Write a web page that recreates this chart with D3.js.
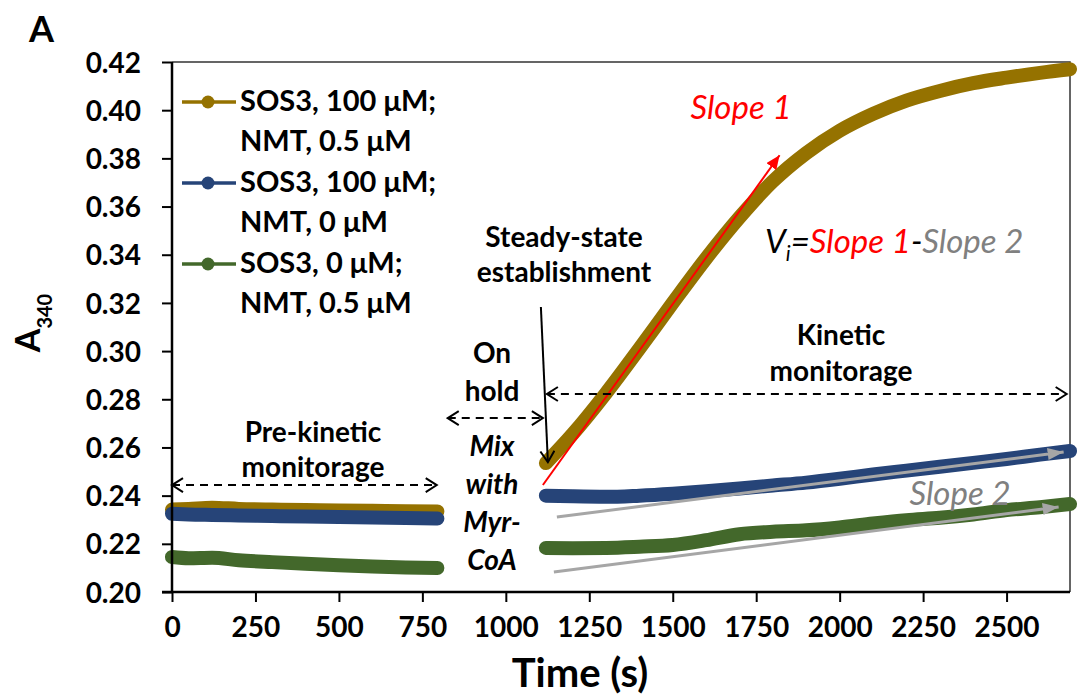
<!DOCTYPE html>
<html><head><meta charset="utf-8">
<script src="https://cdn.jsdelivr.net/npm/d3@7"></script>
<style>
body{margin:0;background:#fff;}
svg{display:block;font-family:Lato,"Open Sans",sans-serif;}
</style></head>
<body><svg id="c" width="1081" height="698"></svg>
<script>
// ---- data ----
const preTime = [0, 50, 120, 200, 300, 400, 500, 600, 700, 795];
const goldPre  = [0.2342, 0.2345, 0.2350, 0.2345, 0.2342, 0.2340, 0.2338, 0.2337, 0.2335, 0.2334];
const bluePre  = [0.2325, 0.2322, 0.2320, 0.2318, 0.2315, 0.2313, 0.2311, 0.2309, 0.2307, 0.2305];
const greenPre = [0.2145, 0.2140, 0.2142, 0.2132, 0.2124, 0.2117, 0.2111, 0.2106, 0.2102, 0.2100];

const kinTime = [1120, 1200, 1300, 1400, 1500, 1600, 1700, 1800, 1900, 2000, 2100, 2200, 2300, 2400, 2500, 2600, 2690];
const goldKin  = [0.2535, 0.2655, 0.2825, 0.3010, 0.3200, 0.3385, 0.3555, 0.3705, 0.3822, 0.3915, 0.3985, 0.4040, 0.4080, 0.4112, 0.4135, 0.4155, 0.4170];
const blueKin  = [0.2400, 0.2397, 0.2395, 0.2400, 0.2408, 0.2418, 0.2430, 0.2442, 0.2454, 0.2470, 0.2488, 0.2504, 0.2520, 0.2536, 0.2552, 0.2570, 0.2585];
const greenKin = [0.2183, 0.2182, 0.2183, 0.2188, 0.2195, 0.2215, 0.2240, 0.2250, 0.2256, 0.2268, 0.2284, 0.2298, 0.2308, 0.2322, 0.2340, 0.2352, 0.2365];

const seriesNames = [["SOS3, 100 μM;", "NMT, 0.5 μM"], ["SOS3, 100 μM;", "NMT, 0 μM"], ["SOS3, 0 μM;", "NMT, 0.5 μM"]];
const seriesColors = ["#957200", "#264478", "#43682B"];

const xTicks = [0, 250, 500, 750, 1000, 1250, 1500, 1750, 2000, 2250, 2500];
const yTicks = [0.20, 0.22, 0.24, 0.26, 0.28, 0.30, 0.32, 0.34, 0.36, 0.38, 0.40, 0.42];

// slope guide lines (data units)
const slope1 = [[1111, 0.2444], [1820, 0.3813]];
const slope2Blue = [[1153, 0.2311], [2671, 0.2581]];
const slope2Green = [[1144, 0.2083], [2656, 0.2353]];

// ---- layout ----
const svg = d3.select("#c");
const L = 172, R = 1070, T = 62, B = 592;
const x = d3.scaleLinear().domain([0, 2690]).range([L, R]);
const y = d3.scaleLinear().domain([0.20, 0.42]).range([B, T]);

// defs: arrowheads
const defs = svg.append("defs");
function openHead(id){
  defs.append("marker").attr("id", id).attr("viewBox", "-12 -8 14 16")
    .attr("refX", 0).attr("refY", 0).attr("markerWidth", 14).attr("markerHeight", 16)
    .attr("markerUnits", "userSpaceOnUse").attr("orient", "auto-start-reverse")
    .append("path").attr("d", "M-11,-7 L0,0 L-11,7").attr("fill", "none")
    .attr("stroke", "#000").attr("stroke-width", 2);
}
openHead("open");
function filledHead(id, color, w, h){
  defs.append("marker").attr("id", id).attr("viewBox", `${-w} ${-h/2} ${w} ${h}`)
    .attr("refX", 0).attr("refY", 0).attr("markerWidth", w).attr("markerHeight", h)
    .attr("markerUnits", "userSpaceOnUse").attr("orient", "auto")
    .append("path").attr("d", `M${-w},${-h/2} L0,0 L${-w},${h/2} Z`).attr("fill", color);
}
filledHead("redHead", "#FF0000", 14, 12);
filledHead("grayHead", "#A6A6A6", 16, 12);

// frame (top & right)
svg.append("path").attr("d", `M${L},${T} H${R} V${B}`).attr("fill", "none")
  .attr("stroke", "#333").attr("stroke-width", 1.5);

// series
const line = d3.line().x(d => x(d[0])).y(d => y(d[1])).curve(d3.curveMonotoneX);
const pre = [goldPre, bluePre, greenPre];
const kin = [goldKin, blueKin, greenKin];
[0, 1, 2].forEach(i => {
  const g = svg.append("g");
  g.append("path").datum(preTime.map((t, j) => [t, pre[i][j]])).attr("d", line)
    .attr("fill", "none").attr("stroke", seriesColors[i]).attr("stroke-width", 14)
    .attr("stroke-linecap", "round").attr("stroke-linejoin", "round");
  g.append("path").datum(kinTime.map((t, j) => [t, kin[i][j]])).attr("d", line)
    .attr("fill", "none").attr("stroke", seriesColors[i]).attr("stroke-width", 14)
    .attr("stroke-linecap", "round").attr("stroke-linejoin", "round");
  if (i === 0) {
    svg.append("line").attr("x1", x(slope1[0][0])).attr("y1", y(slope1[0][1]))
      .attr("x2", x(slope1[1][0])).attr("y2", y(slope1[1][1]))
      .attr("stroke", "#FF0000").attr("stroke-width", 2).attr("marker-end", "url(#redHead)");
  }
});
[slope2Blue, slope2Green].forEach(s => {
  svg.append("line").attr("x1", x(s[0][0])).attr("y1", y(s[0][1]))
    .attr("x2", x(s[1][0])).attr("y2", y(s[1][1]))
    .attr("stroke", "#A6A6A6").attr("stroke-width", 3).attr("marker-end", "url(#grayHead)");
});

// axes
const yAxis = svg.append("g").attr("transform", `translate(${L},0)`)
  .call(d3.axisLeft(y).tickValues(yTicks).tickFormat(d3.format(".2f")).tickSizeInner(10).tickSizeOuter(0));
const xAxis = svg.append("g").attr("transform", `translate(0,${B})`)
  .call(d3.axisBottom(x).tickValues(xTicks).tickFormat(d3.format("d")).tickSizeInner(10).tickSizeOuter(0));
[yAxis, xAxis].forEach(a => {
  a.select(".domain").attr("stroke", "#000").attr("stroke-width", 2.5);
  a.selectAll(".tick line").attr("stroke", "#000").attr("stroke-width", 2);
  a.selectAll(".tick text").attr("fill", "#000").style("font-family", "Lato").style("font-weight", "bold").style("font-size", "28px");
});
yAxis.select(".domain").attr("d", `M0,${T}V${B}`);
xAxis.select(".domain").attr("d", `M${L-10},0H${R}`);
yAxis.selectAll(".tick text").attr("x", -31).attr("dy", "0.36em");
xAxis.selectAll(".tick text").attr("y", 24).attr("dy", "0.74em");

// titles
svg.append("text").attr("x", 29).attr("y", 42).attr("font-weight", "bold").attr("font-size", 36).text("A");
svg.append("text").attr("x", 580).attr("y", 687).attr("text-anchor", "middle")
  .attr("font-weight", "bold").attr("font-size", 40).text("Time (s)");
const yl = svg.append("text").attr("transform", "translate(40,323) rotate(-90)")
  .attr("text-anchor", "middle").attr("font-weight", "bold");
yl.append("tspan").attr("font-size", 34).text("A");
yl.append("tspan").attr("font-size", 20).attr("dy", 12).text("340");

// legend
seriesNames.forEach((nm, i) => {
  const cy = 102 + i * 81;
  svg.append("line").attr("x1", 182).attr("x2", 236).attr("y1", cy).attr("y2", cy)
    .attr("stroke", seriesColors[i]).attr("stroke-width", 3.5);
  svg.append("circle").attr("cx", 208).attr("cy", cy).attr("r", 6.5).attr("fill", seriesColors[i]);
  const t = svg.append("text").attr("x", 240).attr("font-weight", "bold").attr("font-size", 29);
  t.append("tspan").attr("x", 240).attr("y", cy + 9).text(nm[0]);
  t.append("tspan").attr("x", 240).attr("y", cy + 49).text(nm[1]);
});

// annotations
function multiText(lines, cx, y0, dy, opts) {
  const t = svg.append("text").attr("text-anchor", "middle").attr("font-weight", "bold")
    .attr("font-size", opts.size || 28).attr("font-style", opts.italic ? "italic" : "normal");
  lines.forEach((s, k) => t.append("tspan").attr("x", cx).attr("y", y0 + k * dy).text(s));
}
multiText(["Pre-kinetic", "monitorage"], 313, 442, 35, {});
multiText(["On", "hold"], 492, 363, 38, {});
multiText(["Mix", "with", "Myr-", "CoA"], 492, 456, 38, {italic: true});
multiText(["Steady-state", "establishment"], 564, 247, 35, {});
multiText(["Kinetic", "monitorage"], 841, 345, 36, {});

function dashed(t0, t1, v) {
  svg.append("line").attr("x1", x(t0)).attr("x2", x(t1)).attr("y1", y(v)).attr("y2", y(v))
    .attr("stroke", "#000").attr("stroke-width", 2).attr("stroke-dasharray", "8,6")
    .attr("marker-start", "url(#open)").attr("marker-end", "url(#open)");
}
dashed(0, 793, 0.2444);
dashed(826, 1111, 0.2722);
dashed(1123, 2680, 0.2822);
svg.append("line").attr("x1", x(1105)).attr("y1", y(0.3183)).attr("x2", x(1126)).attr("y2", y(0.2539))
  .attr("stroke", "#000").attr("stroke-width", 2).attr("marker-end", "url(#open)");

svg.append("text").attr("x", 741).attr("y", 119).attr("text-anchor", "middle")
  .attr("font-style", "italic").attr("font-size", 33).attr("fill", "#FF0000").text("Slope 1");
svg.append("text").attr("x", 960).attr("y", 505).attr("text-anchor", "middle")
  .attr("font-style", "italic").attr("font-size", 33).attr("fill", "#808080").text("Slope 2");
const vi = svg.append("text").attr("x", 765).attr("y", 253).attr("font-style", "italic").attr("font-size", 33);
vi.append("tspan").attr("fill", "#000").text("V");
vi.append("tspan").attr("fill", "#000").attr("font-size", 21).attr("dy", 8).text("i");
vi.append("tspan").attr("fill", "#000").attr("dy", -8).text("=");
vi.append("tspan").attr("fill", "#FF0000").text("Slope 1");
vi.append("tspan").attr("fill", "#000").text("-");
vi.append("tspan").attr("fill", "#808080").text("Slope 2");
</script></body></html>
